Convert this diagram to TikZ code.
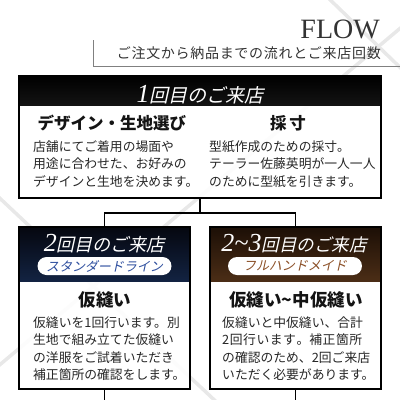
\documentclass[tikz,border=0pt]{standalone}
\usepackage{fontspec}
\setmainfont{Liberation Serif}
\newfontfamily\jp{Noto Sans CJK JP}
\newfontfamily\jpit{Noto Sans CJK JP}[FakeSlant=0.22]
\newfontfamily\jpsub{Noto Sans CJK JP}[LetterSpace=5]
\usetikzlibrary{positioning}
\definecolor{navytop}{HTML}{05070F}
\definecolor{navymid}{HTML}{16244E}
\definecolor{navybot}{HTML}{2E5BA8}
\definecolor{browntop}{HTML}{1C0F06}
\definecolor{brownmid}{HTML}{5A3418}
\definecolor{brownbot}{HTML}{A96A36}
\definecolor{pillblue}{HTML}{2D4E9E}
\definecolor{pillbrown}{HTML}{8B4F26}
\definecolor{inkgray}{HTML}{333333}

\begin{document}
\begin{tikzpicture}[x=1pt,y=-1pt,
  bgline/.style={line width=3.5pt,black!9},
  boxframe/.style={draw=black,line width=1.6pt,fill=white,fill opacity=0.9,inner sep=0pt},
  link/.style={draw=black,line width=1.3pt},
  headtext/.style={font=\jpit\fontsize{18}{18}\selectfont,text=white,inner sep=0pt,anchor=base},
  pill/.style={fill=white,rounded corners=9pt,minimum width=134pt,minimum height=18pt,inner sep=0pt,font=\jpit\fontsize{13}{13}\selectfont},
  heading/.style={font=\jp\bfseries\fontsize{16.5}{16.5}\selectfont,text=black!92,inner sep=0pt},
  body/.style={font=\jp\fontsize{12.8}{17.5}\selectfont,text=black!85,align=left,inner sep=0pt,anchor=north west}]
\useasboundingbox (0,0) rectangle (400,400);

\draw[bgline] (-10,189) -- (225,410);
\draw[bgline] (-10,373) -- (410,20);
\draw[bgline] (320,-10) -- (410,77);

\node[font=\fontsize{28}{28}\selectfont,text=inkgray,inner sep=0pt,anchor=base east] (flow) at (380,38) {FLOW};
\node[font=\jpsub\fontsize{14}{14}\selectfont,text=inkgray,inner sep=0pt,anchor=east] (sub) at (381,53) {ご注文から納品までの流れとご来店回数};
\coordinate (brtop) at (93,40);
\coordinate (brend) at (401,66);
\draw[black!50,line width=1pt] (brtop) |- (brend);

\node[boxframe,minimum width=362pt,minimum height=122pt,
  path picture={\shade[fill opacity=1,top color=black,bottom color=black!68]
    (path picture bounding box.north west) rectangle ([yshift=-29pt]path picture bounding box.north east);}]
  (visit1) at (200,137) {};
\node[boxframe,minimum width=171pt,minimum height=162pt,
  path picture={\shade[fill opacity=1,top color=navytop,middle color=navymid,bottom color=navybot]
    (path picture bounding box.north west) rectangle ([yshift=-54pt]path picture bounding box.north east);}]
  (visit2) at (104.5,308) {};
\node[boxframe,minimum width=171pt,minimum height=162pt,
  path picture={\shade[fill opacity=1,top color=browntop,middle color=brownmid,bottom color=brownbot]
    (path picture bounding box.north west) rectangle ([yshift=-54pt]path picture bounding box.north east);}]
  (visit3) at (295.5,308) {};

\coordinate (fork) at (200,213);
\coordinate (out2) at (104.5,401);
\coordinate (out3) at (295.5,401);
\draw[link] (visit1.south) -- (fork);
\draw[link] (visit2.north) |- (fork) -| (visit3.north);
\draw[link] (visit2.south) -- (out2);
\draw[link] (visit3.south) -- (out3);

\node[headtext,font=\jpit\fontsize{19}{19}\selectfont] (h1) at (200,102) {{\rmfamily\itshape\fontsize{26}{26}\selectfont 1}回目のご来店};
\node[headtext] (h2) at (104.5,251) {{\rmfamily\itshape\fontsize{26}{26}\selectfont 2}回目のご来店};
\node[headtext,font=\jpit\fontsize{17.5}{17.5}\selectfont] (h3) at (294,251) {{\rmfamily\itshape\fontsize{26}{26}\selectfont 2\textasciitilde 3}回目のご来店};

\node[pill,text=pillblue] (p2) at (104.5,266) {スタンダードライン};
\node[pill,text=pillbrown] (p3) at (295,266) {フルハンドメイド};

\node[heading] (t1a) at (112,123) {デザイン・生地選び};
\node[heading] (t1b) at (288,123) {採\hspace{3pt}寸};
\node[heading,font=\jp\bfseries\fontsize{17.5}{17.5}\selectfont] (t2) at (105,300) {仮縫い};
\node[heading,font=\jp\bfseries\fontsize{17.5}{17.5}\selectfont] (t3) at (296,300) {仮縫い\textasciitilde 中仮縫い};

\node[body] (b1a) at (33,140.5) {店舗にてご着用の場面や\\用途に合わせた、お好みの\\デザインと生地を決めます。};
\node[body] (b1b) at (209,140.5) {型紙作成のための採寸。\\テーラー佐藤英明が一人一人\\のために型紙を引きます。};
\node[body] (b2) at (33,316.5) {仮縫いを1回行います。別\\生地で組み立てた仮縫い\\の洋服をご試着いただき\\補正箇所の確認をします。};
\node[body] (b3) at (222,316.5) {仮縫いと中仮縫い、合計\\\makebox[140pt][s]{2\hfil 回\hfil 行\hfil い\hfil ま\hfil す\hfil 。補\hfil 正\hfil 箇\hfil 所}\\の確認のため、2回ご来店\\いただく必要があります。};
\end{tikzpicture}
\end{document}
